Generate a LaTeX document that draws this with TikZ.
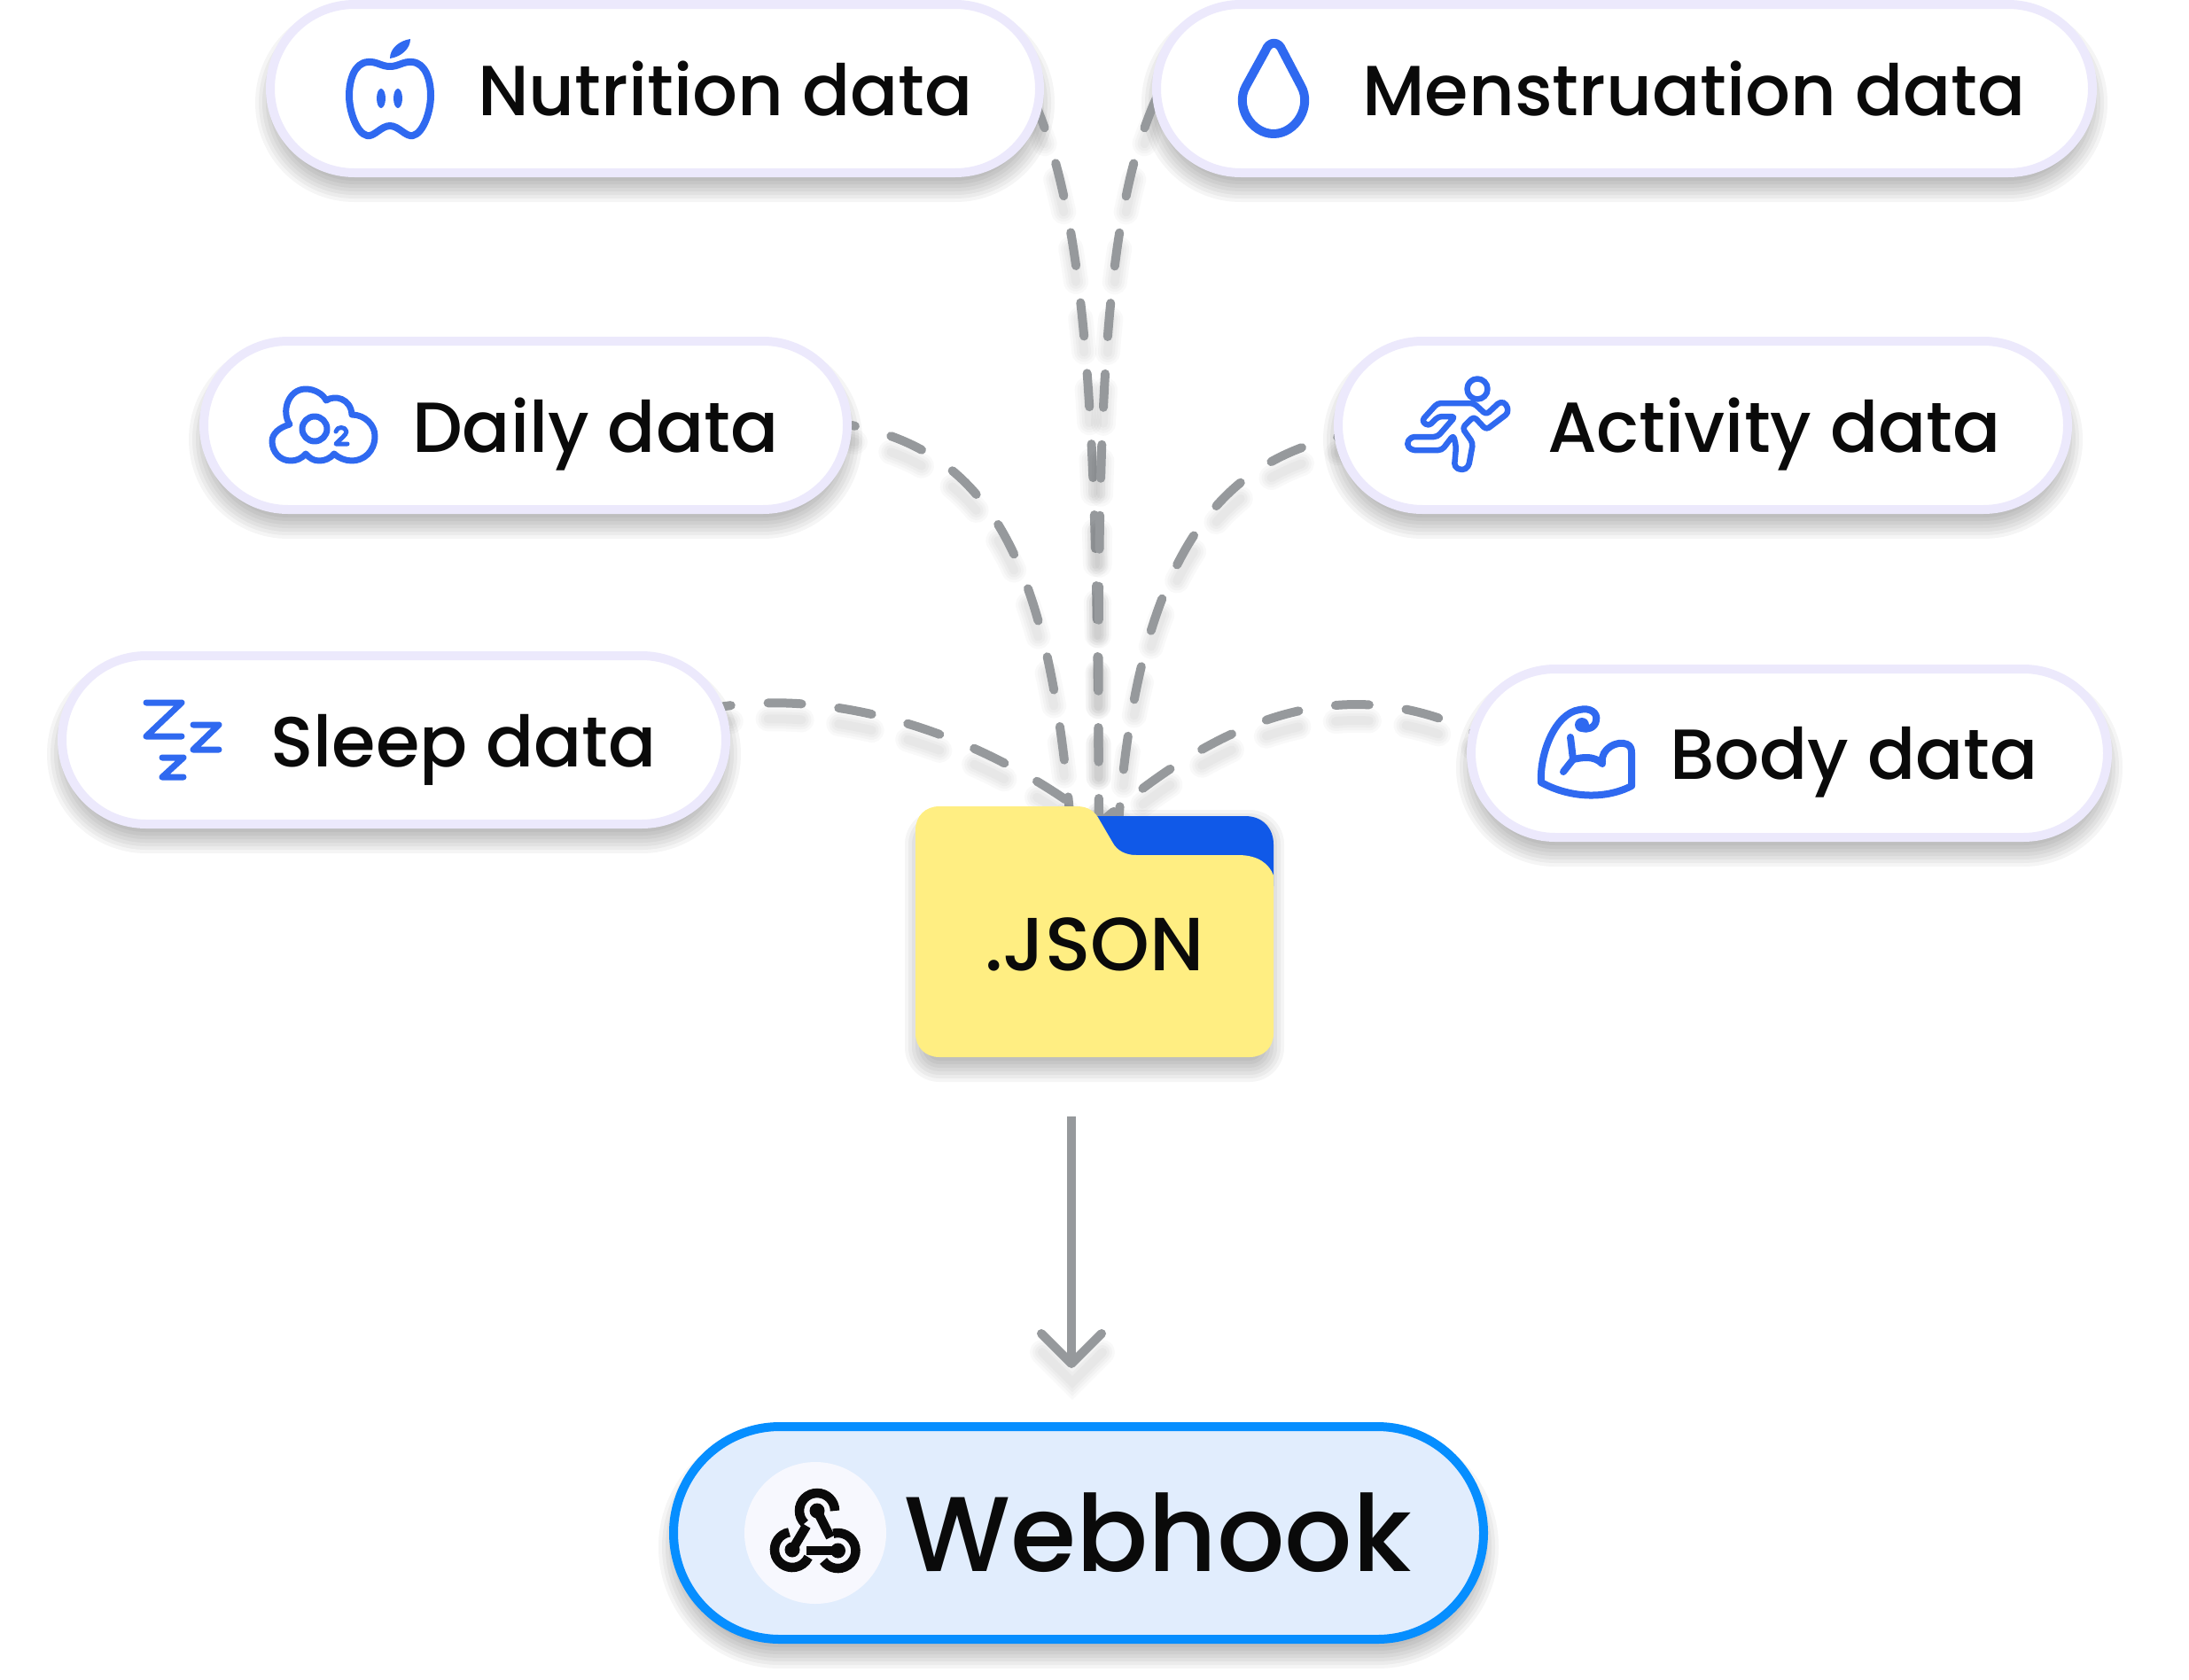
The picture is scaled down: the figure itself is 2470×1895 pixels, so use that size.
\documentclass[tikz,border=0pt]{standalone}
\usepackage{fontspec}
\setmainfont{Poppins Medium}
\usetikzlibrary{backgrounds}
\usetikzlibrary{arrows.meta}
\definecolor{pillBorder}{RGB}{236,233,252}
\definecolor{iconBlue}{RGB}{47,105,240}
\definecolor{flowGray}{RGB}{150,153,156}
\definecolor{folderYellow}{RGB}{255,238,130}
\definecolor{folderBlue}{RGB}{16,89,232}
\definecolor{hookBorder}{RGB}{6,142,255}
\definecolor{hookFill}{RGB}{225,237,253}
\definecolor{hookCircle}{RGB}{247,248,254}
\definecolor{inkBlack}{RGB}{10,10,10}
\tikzstyle{canvas} = [x = 1pt, y = -1pt]
\tikzstyle{pillStyle} = [draw=pillBorder, fill=white, line width=10pt, inner sep=0pt]
\tikzstyle{hookStyle} = [draw=hookBorder, fill=hookFill, line width=10pt, inner sep=0pt]
\tikzstyle{pillText} = [anchor=base west, inner sep=0pt, text=inkBlack, font=\fontsize{80}{90}\selectfont]
\tikzstyle{shadowStyle} = [fill=black, opacity=.04]
\tikzstyle{flowLine} = [draw=flowGray, line width=10pt, line cap=round, dash pattern=on 38pt off 42pt]
\tikzstyle{flowShadow} = [draw=black, opacity=.022, line cap=round, dash pattern=on 38pt off 42pt, transform canvas={yshift=-18pt}]
\tikzstyle{iconLine} = [draw=iconBlue, line width=7pt, line cap=round, line join=round]
\tikzstyle{hookLine} = [draw=inkBlack, line width=10.5pt]
\newcommand{\softShadow}[5]{
  \begin{scope}[on background layer]
    \foreach \spread in {-16,-12,...,12} {
      \pgfmathsetmacro{\rad}{max(#5 + \spread, 1)}
      \pgfmathsetmacro{\shadowLeft}{#1 - \spread}
      \pgfmathsetmacro{\shadowTop}{#2 - \spread + 16}
      \pgfmathsetmacro{\shadowRight}{#3 + \spread}
      \pgfmathsetmacro{\shadowBottom}{#4 + \spread + 16}
      \fill [shadowStyle, rounded corners=\rad pt] (\shadowLeft, \shadowTop) rectangle (\shadowRight, \shadowBottom);
    }
  \end{scope}
}
\newcommand{\sourcePill}[5]{
  \softShadow{#2}{#3}{#4}{#5}{100}
  \node [pillStyle, rounded corners=95pt, minimum width={(#4 - #2 - 10)*1pt}, minimum height={(#5 - #3 - 10)*1pt}] (#1) at ({(#2 + #4)/2}, {(#3 + #5)/2}) {};
}
% dashed feed from a pill into the folder, under everything else
\newcommand{\feedLine}[2]{
  \begin{scope}[on background layer]
    \foreach \blur in {10,16,22,28} {
      \draw [flowShadow, dash phase=#1pt, line width=\blur pt] #2;
    }
    \draw [flowLine, dash phase=#1pt] #2;
  \end{scope}
}
\begin{document}
\begin{tikzpicture}[canvas]
  \useasboundingbox (0,0) rectangle (2470,1895);
  \begin{scope}[on background layer]
    \fill [white] (0,0) rectangle (2470,1895);
  \end{scope}

  \sourcePill{nutritionPill}{300}{0}{1178}{200}
  \sourcePill{menstruationPill}{1300}{0}{2366}{200}
  \sourcePill{dailyPill}{225}{380}{961}{580}
  \sourcePill{activityPill}{1505}{380}{2338}{580}
  \sourcePill{sleepPill}{65}{735}{824}{935}
  \sourcePill{bodyPill}{1655}{750}{2383}{950}

  \node [pillText] (nutritionText) at (539,130) {Nutrition data};
  \node [pillText] (menstruationText) at (1537,130) {Menstruation data};
  \node [pillText] (dailyText) at (465,510) {Daily data};
  \node [pillText] (activityText) at (1746,510) {Activity data};
  \node [pillText] (sleepText) at (305,865) {Sleep data};
  \node [pillText] (bodyText) at (1884,879) {Body data};

  % folder
  \softShadow{1033}{910}{1437}{1193}{27}
  \fill [folderBlue] (1200,921) -- (1405,921) .. controls (1425,921) and (1437,935) .. (1437,953) -- (1437,1000) -- (1200,1000) -- cycle;
  \fill [folderYellow] (1060,910) -- (1215,910) .. controls (1228,910) and (1236,916) .. (1241,926) -- (1255,950) .. controls (1260,960) and (1270,965) .. (1282,965) -- (1397,965) .. controls (1420,965) and (1432,975) .. (1437,988) -- (1437,1166) .. controls (1437,1182) and (1426,1193) .. (1410,1193) -- (1060,1193) .. controls (1044,1193) and (1033,1182) .. (1033,1166) -- (1033,937) .. controls (1033,921) and (1044,910) .. (1060,910) -- cycle;
  \node [minimum width=404pt, minimum height=283pt, inner sep=0pt] (jsonFolder) at (1235,1051.5) {};
  \node [pillText, anchor=base, font=\fontsize{85}{90}\selectfont] (jsonText) at (1235,1095) {.JSON};

  % webhook
  \softShadow{755}{1605}{1679}{1855}{125}
  \node [hookStyle, rounded corners=120pt, minimum width=914pt, minimum height=240pt] (webhookPill) at (1217,1730) {};
  \node [circle, fill=hookCircle, minimum size=160pt, inner sep=0pt] (hookBadge) at (920,1730) {};
  \node [pillText, font=\fontsize{120}{130}\selectfont] (webhookText) at (1020,1773) {Webhook};

  \coordinate (folderInlet) at (1240,930);
  \feedLine{70}{([xshift=-18]nutritionPill.east) .. controls (1230,240) and (1238,500) .. (folderInlet)}
  \feedLine{70}{([xshift=10]menstruationPill.west) .. controls (1240,240) and (1238,500) .. (folderInlet)}
  \feedLine{34}{(dailyPill.east) .. controls (1110,510) and (1183,620) .. ([xshift=-32]folderInlet)}
  \feedLine{32}{([shift={(10,12)}]activityPill.west) .. controls (1380,520) and (1285,620) .. ([xshift=22]folderInlet)}
  \feedLine{13}{([shift={(-24,-35)}]sleepPill.east) .. controls (930,775) and (1100,820) .. (folderInlet)}
  \feedLine{18}{([shift={(25,-15)}]bodyPill.west) .. controls (1540,760) and (1400,790) .. (folderInlet)}

  % down arrow
  \begin{scope}[on background layer]
    \foreach \blur in {10,16,22,28} {
      \draw [draw=black, opacity=.022, line width=\blur pt, line cap=round, transform canvas={yshift=-18pt}] (1176,1508) -- (1210,1542) -- (1244,1508);
    }
  \end{scope}
  \draw [draw=flowGray, line width=10pt, -{Straight Barb[length=34pt, width=68pt, round]}] ([shift={(-26,67)}]jsonFolder.south) -- ([shift={(-8,-61)}]webhookPill.north);

  % apple
  \draw [iconLine, line width=8pt] (440,75) .. controls (450,75) and (455,69) .. (465,70) .. controls (480,71) and (486,90) .. (486,108) .. controls (486,125) and (478,150) .. (466,153) .. controls (458,155) and (450,142) .. (440,142) .. controls (430,142) and (422,155) .. (414,153) .. controls (402,150) and (394,125) .. (394,108) .. controls (394,90) and (400,71) .. (415,70) .. controls (425,69) and (430,75) .. (440,75) -- cycle;
  \fill [iconBlue] (440,66) .. controls (440,55) and (450,46) .. (463,44) .. controls (463,55) and (453,64) .. (440,66) -- cycle;
  \fill [iconBlue] (430,111) ellipse [x radius=5, y radius=11];
  \fill [iconBlue] (449,111) ellipse [x radius=5, y radius=11];

  % drop
  \draw [iconLine, line width=10pt] (1406,97) -- (1428,57) .. controls (1432,46) and (1443,46) .. (1447,57) -- (1468,97) .. controls (1481,120) and (1462,151) .. (1437,151) .. controls (1412,151) and (1393,120) .. (1406,97) -- cycle;

  % cloud
  \draw [iconLine] (327,479) .. controls (317,465) and (325,439) .. (345,439) .. controls (355,439) and (365,445) .. (368,452) .. controls (378,445) and (396,450) .. (397,468) .. controls (412,468) and (423,480) .. (423,492) .. controls (423,510) and (410,520) .. (397,520) .. controls (390,520) and (382,517) .. (377,512) .. controls (372,518) and (366,520) .. (360,520) .. controls (354,520) and (349,517) .. (345,512) .. controls (340,518) and (334,520) .. (328,520) .. controls (316,520) and (307,510) .. (307,498) .. controls (307,489) and (316,482) .. (327,479) -- cycle;
  \draw [iconLine] (355,484) circle [radius=14];
  \draw [iconLine, line width=5pt] (379,487) .. controls (380,481) and (390,481) .. (391,487) .. controls (391,491) and (383,496) .. (379,501) -- (392,501);

  % runner
  \draw [iconLine, line width=6.5pt] (1667,439) circle [radius=11.5];
  \draw [iconLine, line width=6.5pt, rounded corners=4pt] (1663,455) -- (1622,455) -- (1604,475) -- (1612,481) -- (1623,470) -- (1642,470) -- (1622,493) -- (1592,493) -- (1587,501) -- (1592,508) -- (1627,508) -- (1640,491) -- (1643,504) -- (1641,527) -- (1650,531) -- (1657,527) -- (1662,500) -- (1650,483) -- (1663,470) -- (1677,485) -- (1702,466) -- (1700,456) -- (1693,453) -- (1677,468) -- cycle;

  % sleep marks
  \draw [iconLine] (165,793) -- (205,793) -- (165,831) -- (205,831);
  \draw [iconLine] (218,818) -- (247,818) -- (218,846) -- (247,846);
  \draw [iconLine] (183,855) -- (207,855) -- (183,877) -- (207,877);

  % flexed arm
  \draw [iconLine, line width=8pt] (1739,883) .. controls (1737,850) and (1755,805) .. (1782,801) .. controls (1795,798) and (1803,805) .. (1801,813) .. controls (1800,822) and (1790,824) .. (1785,822);
  \fill [iconBlue] (1785,818) circle [radius=8];
  \draw [iconLine, line width=8pt] (1772,832) -- (1775,857) -- (1764,871);
  \draw [iconLine, line width=8pt] (1775,857) .. controls (1785,855) and (1798,852) .. (1808,862);
  \draw [iconLine, line width=8pt] (1808,860) .. controls (1806,845) and (1825,835) .. (1836,840) .. controls (1840,842) and (1841,845) .. (1841,850) -- (1841,887) .. controls (1810,903) and (1770,900) .. (1739,883);

  % webhook mark
  \draw [hookLine] (942,1705) arc [start angle=0, end angle=225, radius=20pt];
  \draw [hookLine] (890.5,1729.3) arc [start angle=100, end angle=335, radius=20pt];
  \draw [hookLine] (929.1,1761.5) arc [start angle=215, end angle=465, radius=20pt];
  \draw [hookLine] (922,1705) -- (937,1735);
  \draw [hookLine] (894,1749) -- (910,1722);
  \draw [hookLine] (945.5,1750) -- (910,1750);
  \fill [inkBlack] (922,1705) circle [radius=8.5];
  \fill [inkBlack] (894,1749) circle [radius=8.5];
  \fill [inkBlack] (945.5,1750) circle [radius=8.5];
\end{tikzpicture}
\end{document}
